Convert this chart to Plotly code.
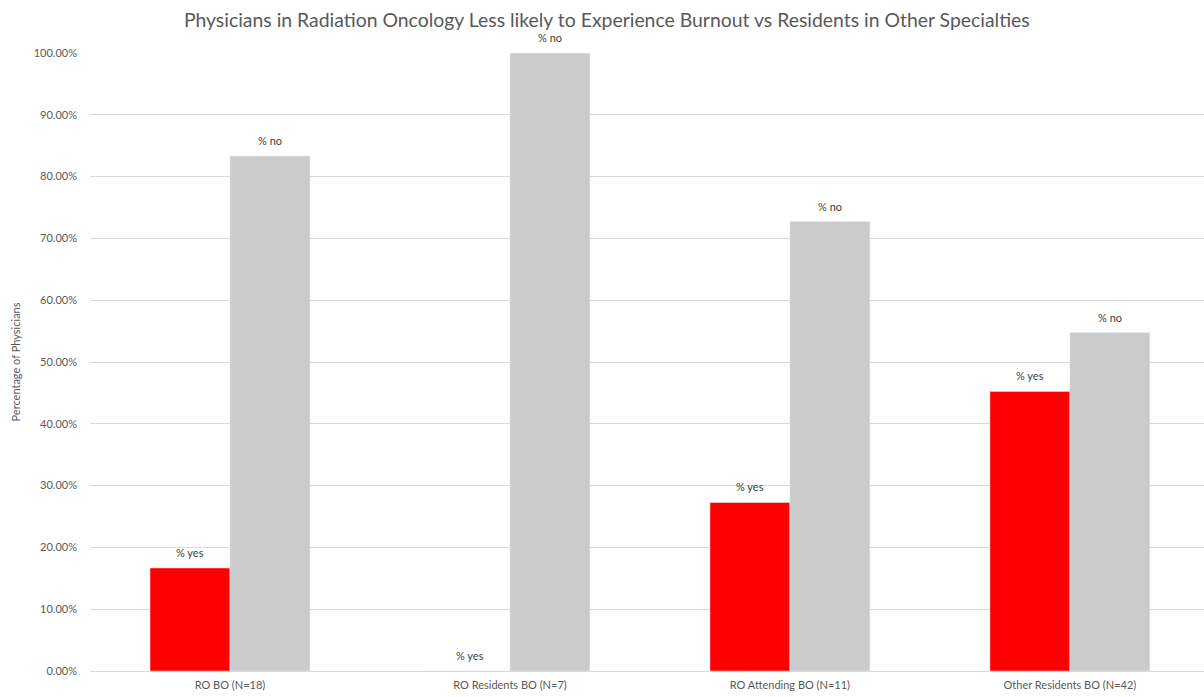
import plotly.graph_objects as go

categories = ["RO BO (N=18)", "RO Residents BO (N=7)", "RO Attending BO (N=11)", "Other Residents BO (N=42)"]
pct_yes = [16.67, 0.0, 27.27, 45.24]
pct_no = [83.33, 100.0, 72.73, 54.76]
series_names = ["% yes", "% no"]

FONT = "Lato, Carlito, Calibri, sans-serif"
LABEL_FONT = dict(size=11, color="#404040", family=FONT)

fig = go.Figure()
series = [(series_names[0], pct_yes, "#ff0000", -40),
          (series_names[1], pct_no, "#cccbcc", 40)]
for name, values, color, shift in series:
    fig.add_trace(go.Bar(name=name, x=categories, y=values, marker_color=color))
    # series-name labels above each bar
    for cat, val in zip(categories, values):
        fig.add_annotation(
            x=cat, y=val, text=name, showarrow=False,
            xanchor="center", yanchor="bottom", xshift=shift, yshift=7,
            font=LABEL_FONT,
        )

fig.update_layout(
    width=1204, height=697,
    margin=dict(l=90, r=0, t=53, b=26),
    paper_bgcolor="white", plot_bgcolor="white",
    barmode="group", bargap=0.4286, bargroupgap=0,
    showlegend=False,
    font=dict(family=FONT, color="#595959"),
    title=dict(
        text="Physicians in Radiation Oncology Less likely to Experience Burnout vs Residents in Other Specialties",
        x=0.504, xanchor="center", y=0.971, yanchor="middle",
        font=dict(size=19.4, color="#595959", family=FONT),
    ),
)
fig.update_xaxes(
    range=[-0.5, 3.479], showgrid=False, showline=False, ticks="",
    tickfont=dict(size=11, color="#595959"), ticklabelstandoff=6,
)
fig.update_yaxes(
    range=[0, 100], dtick=10, tickformat=".2f", ticksuffix="%",
    showgrid=True, gridcolor="#d9d9d9", gridwidth=1,
    zeroline=True, zerolinecolor="#d9d9d9", zerolinewidth=1,
    tickfont=dict(size=11, color="#595959"), ticklabelstandoff=12,
    title=dict(text="Percentage of Physicians", font=dict(size=11, color="#595959"), standoff=10),
)

fig.write_html("out.html")
